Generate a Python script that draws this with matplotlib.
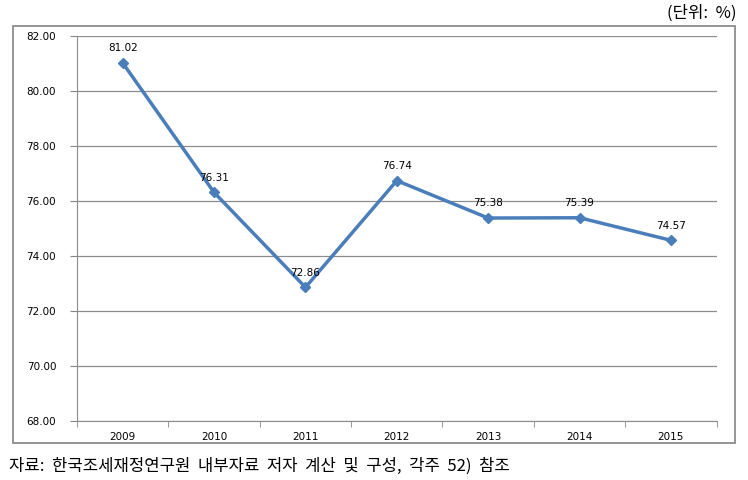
import matplotlib.pyplot as plt
from matplotlib.patches import Rectangle

plt.rcParams['font.family'] = ['Noto Sans CJK KR', 'DejaVu Sans']

# 데이터
years = ['2009', '2010', '2011', '2012', '2013', '2014', '2015']
values = [81.02, 76.31, 72.86, 76.74, 75.38, 75.39, 74.57]

fig = plt.figure(figsize=(7.48, 4.8), dpi=100)
ax = fig.add_axes([0.103, 0.123, 0.855, 0.802])

x = range(len(years))
ax.plot(x, values, color='#4a7ebb', linewidth=2.5, marker='D', markersize=5)

for xi, v in zip(x, values):
    ax.annotate(f'{v:.2f}', xy=(xi, v), xytext=(0, 7), textcoords='offset points',
                ha='center', va='bottom', fontsize=7.5, family='DejaVu Sans')

ax.set_xlim(-0.5, len(years) - 0.5)
ax.set_ylim(68, 82)
ax.set_yticks(range(68, 83, 2))
ax.set_yticklabels([f'{t:.2f}' for t in range(68, 83, 2)], fontsize=7.5, family='DejaVu Sans')
ax.set_xticks(list(x))
ax.set_xticklabels(years, fontsize=7.5, family='DejaVu Sans')
ax.set_xticks([i - 0.5 for i in range(len(years) + 1)], minor=True)
ax.tick_params(axis='x', which='major', length=0, pad=8)
ax.tick_params(axis='x', which='minor', length=4, color='#868686')
ax.tick_params(axis='y', length=5, color='#868686', pad=10)

ax.grid(axis='y', color='#8c8c8c', linewidth=0.9)
ax.set_axisbelow(True)
for s in ['top', 'right']:
    ax.spines[s].set_visible(False)
for s in ['left', 'bottom']:
    ax.spines[s].set_color('#8c8c8c')

# 바깥 테두리
fig.patches.append(Rectangle((0.018, 0.077), 0.964, 0.869, transform=fig.transFigure,
                             fill=False, edgecolor='#8c8c8c', linewidth=1.3))

fig.text(0.985, 0.972, '(단위:  %)', ha='right', va='center', fontsize=12)
fig.text(0.012, 0.028, '자료:  한국조세재정연구원  내부자료  저자  계산  및  구성,  각주  52)  참조',
         ha='left', va='center', fontsize=12)

fig.savefig('out.png', dpi=100)
